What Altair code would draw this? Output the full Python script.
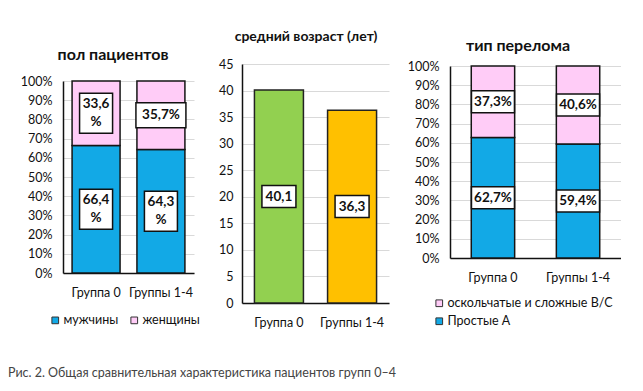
import altair as alt
import pandas as pd

# ---------------- data ----------------
groups = ["Группа 0", "Группы 1-4"]

sex_categories = ["мужчины", "женщины"]
male_pct = [66.4, 64.3]
female_pct = [33.6, 35.7]
male_labels = ["66,4\n%", "64,3\n%"]
female_labels = ["33,6\n%", "35,7%"]

age_values = [40.1, 36.3]
age_labels = ["40,1", "36,3"]

fracture_categories = ["оскольчатые и сложные В/С", "Простые А"]
simple_pct = [62.7, 59.4]
complex_pct = [37.3, 40.6]
simple_labels = ["62,7%", "59,4%"]
complex_labels = ["37,3%", "40,6%"]

pct_ticks = list(range(0, 101, 10))
age_ticks = list(range(0, 46, 5))

titles = ["пол пациентов", "средний возраст (лет)", "тип перелома"]
caption = "Рис. 2. Общая сравнительная характеристика пациентов групп 0–4"

# ---------------- style ----------------
FONT = "Lato"
BLUE = "#12A9E6"
PINK = "#FFCCF7"
GREEN = "#92D050"
ORANGE = "#FFC000"
TXT = "#111111"
GRID = "#d9d9d9"

BOX_TALL = "M-0.66,-0.8H0.66V0.8H-0.66Z"
BOX_WIDE = "M-1,-0.5H1V0.5H-1Z"
BOX_AGE = "M-0.68,-0.44H0.68V0.44H-0.68Z"
BOX_FRAC = "M-0.86,-0.44H0.86V0.44H-0.86Z"
LINE_H = 18


def y_axis(values, pct=True, pad=10):
    kw = dict(values=values, grid=True, gridColor=GRID, gridWidth=1,
              domainColor="#111", domainWidth=1.5, ticks=False,
              labelPadding=pad, labelFont=FONT, labelFontSize=12.5,
              labelColor=TXT, title=None, labelOverlap=False)
    if pct:
        kw["labelExpr"] = "datum.value + '%'"
    return alt.Axis(**kw)


def x_axis():
    return alt.Axis(title=None, labelAngle=0, ticks=False, grid=False,
                    domainColor="#111", domainWidth=1.5, labelPadding=13,
                    labelFont=FONT, labelFontSize=12.5, labelColor=TXT)


def title_layer(text, x, y, size):
    return alt.Chart(pd.DataFrame({"t": [text]})).mark_text(
        font=FONT, fontWeight="bold", fontSize=size, color="#111",
        align="center", baseline="middle").encode(
        text="t:N", x=alt.value(x), y=alt.value(y))


def stacked_panel(bottom_vals, top_vals, bottom_lbls, top_lbls, cats, legend_order,
                  xrange, xpi, xpo, yrange, wide_path, legend):
    rows = []
    for i, g in enumerate(groups):
        b = bottom_vals[i]
        t = top_vals[i]
        rows.append(dict(group=g, category=cats[0], start=0, end=b, label=bottom_lbls[i]))
        rows.append(dict(group=g, category=cats[1], start=b, end=b + t, label=top_lbls[i]))
    df = pd.DataFrame(rows)
    df["box"] = ["tall" if "\n" in l else "wide" for l in df["label"]]

    xs = alt.Scale(domain=groups, range=xrange, paddingInner=xpi, paddingOuter=xpo)
    ys = alt.Scale(domain=[0, 100], range=yrange, nice=False)
    yax = y_axis(pct_ticks, pad=11)
    X = alt.X("group:N", sort=groups, scale=xs, axis=x_axis())
    Ymid = alt.Y("mid:Q", scale=ys, axis=yax)

    colmap = {cats[0]: BLUE, cats[1]: PINK}
    bars = alt.Chart(df).mark_bar(stroke="#151515", strokeWidth=1.5).encode(
        x=X,
        y=alt.Y("start:Q", scale=ys, axis=yax),
        y2="end:Q",
        color=alt.Color("category:N",
                        scale=alt.Scale(domain=legend_order,
                                        range=[colmap[c] for c in legend_order]),
                        legend=legend),
    )
    base = alt.Chart(df).transform_calculate(mid="(datum.start + datum.end) / 2")
    boxes = base.mark_point(filled=True, fill="white", stroke="#111", strokeWidth=1.5,
                            size=2500, opacity=1).encode(
        x=X, y=Ymid,
        shape=alt.Shape("box:N", scale=alt.Scale(domain=["tall", "wide"],
                                                 range=[BOX_TALL, wide_path]),
                        legend=None))
    text_kw = dict(font=FONT, fontWeight="bold", fontSize=13.5, color="#111",
                   lineBreak="\n", lineHeight=LINE_H, baseline="middle")
    labels_one = base.transform_filter("datum.box == 'wide'").mark_text(**text_kw).encode(
        x=X, y=Ymid, text="label:N")
    labels_two = base.transform_filter("datum.box == 'tall'").mark_text(
        dy=-LINE_H / 2, **text_kw).encode(
        x=X, y=Ymid, text="label:N")
    return [bars, boxes, labels_one, labels_two]


# ---------------- panel 1: sex ----------------
leg1 = alt.Legend(orient="none", legendX=-14, legendY=306, direction="horizontal",
                  title=None, symbolType="square", symbolSize=45,
                  symbolStrokeColor="#333", symbolStrokeWidth=1,
                  labelFont=FONT, labelFontSize=12.5, labelColor=TXT,
                  labelOffset=2, columnPadding=9)
p1_layers = stacked_panel(male_pct, female_pct, male_labels, female_labels,
                          sex_categories, sex_categories,
                          [0, 131], 0.26, 0.14, [265, 73], BOX_WIDE, leg1)
cap = alt.Chart(pd.DataFrame({"t": [caption]})).mark_text(
    font=FONT, fontSize=12.5, color="#444", align="left",
    baseline="middle").encode(text="t:N", x=alt.value(-55), y=alt.value(365))
p1 = alt.layer(*p1_layers, title_layer(titles[0], 50, 47, 16), cap).properties(
    width=179, height=265)

# ---------------- panel 2: age ----------------
df2 = pd.DataFrame({"group": groups, "age": age_values, "label": age_labels})
xs2 = alt.Scale(domain=groups, range=[0, 147], paddingInner=0.33, paddingOuter=0.17)
ys2 = alt.Scale(domain=[0, 45], range=[295, 56], nice=False)
yax2 = y_axis(age_ticks, pct=False, pad=9)
X2 = alt.X("group:N", sort=groups, scale=xs2, axis=x_axis())
Ymid2 = alt.Y("mid:Q", scale=ys2, axis=yax2)
bars2 = alt.Chart(df2).mark_bar(stroke="#222", strokeWidth=1.5).encode(
    x=X2,
    y=alt.Y("age:Q", scale=ys2, axis=yax2),
    color=alt.Color("group:N", scale=alt.Scale(domain=groups, range=[GREEN, ORANGE]),
                    legend=None),
)
base2 = alt.Chart(df2).transform_calculate(mid="datum.age / 2")
boxes2 = base2.mark_point(filled=True, fill="white", stroke="#111", strokeWidth=1.5,
                          size=2500, opacity=1, shape=BOX_AGE).encode(x=X2, y=Ymid2)
labels2 = base2.mark_text(font=FONT, fontWeight="bold", fontSize=13.5, color="#111",
                          baseline="middle").encode(x=X2, y=Ymid2, text="label:N")
p2 = alt.layer(bars2, boxes2, labels2, title_layer(titles[1], 64, 29, 14)).properties(
    width=208, height=295)

# ---------------- panel 3: fracture ----------------
leg3 = alt.Legend(orient="none", legendX=-17, legendY=289, direction="vertical",
                  title=None, symbolType="square", symbolSize=45,
                  symbolStrokeColor="#333", symbolStrokeWidth=1,
                  labelFont=FONT, labelFontSize=12.5, labelColor=TXT,
                  labelOffset=2, rowPadding=5, labelLimit=300)
p3_layers = stacked_panel(simple_pct, complex_pct, simple_labels, complex_labels,
                          [fracture_categories[1], fracture_categories[0]],
                          fracture_categories,
                          [0, 171], 0.49, 0.25, [250, 58], BOX_FRAC, leg3)
p3 = alt.layer(*p3_layers, title_layer(titles[2], 68, 38, 16)).properties(
    width=171, height=250)

chart = alt.hconcat(p1, p2, p3, spacing=0, bounds="flush").resolve_scale(
    color="independent", shape="independent", x="independent", y="independent"
).configure_view(stroke=None).properties(
    padding={"left": 0, "top": 0, "right": 0, "bottom": 0}, background="white")

chart.save("out.html", embed_options={"renderer": "svg", "actions": False})
